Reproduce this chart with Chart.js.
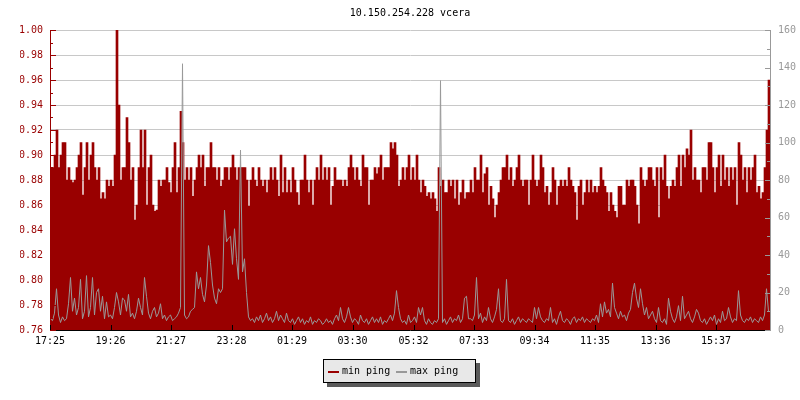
<!DOCTYPE html>
<html>
<head>
<meta charset="utf-8">
<title>10.150.254.228 vcera</title>
<script src="https://cdn.jsdelivr.net/npm/chart.js@4.4.0/dist/chart.umd.min.js"></script>
<style>
  html, body { margin: 0; padding: 0; background: #fff; }
  #pingChart { display: block; }
</style>
</head>
<body>
<canvas id="pingChart" width="800" height="400"></canvas>
<script>
const chartTitle = '10.150.254.228 vcera';
const seriesNames = ['min ping', 'max ping'];
const startTime = '17:25';
const stepMinutes = 4;
const tickLabels = ['17:25', '19:26', '21:27', '23:28', '01:29', '03:30',
                    '05:32', '07:33', '09:34', '11:35', '13:36', '15:37'];

// min ping (ms), one value every 4 minutes
const minPing = [
  0.89,0.89,0.90,0.92,0.89,0.90,0.91,0.91,0.88,0.89,0.88,0.878,0.88,0.89,0.90,0.91,0.868,0.89,0.91,0.88,0.90,0.91,0.89,0.88,0.89,0.865,0.87,0.865,0.88,0.875,
  0.88,0.875,0.90,1.00,0.94,0.88,0.89,0.89,0.93,0.91,0.88,0.89,0.848,0.86,0.89,0.92,0.89,0.92,0.86,0.89,0.90,0.86,0.855,0.856,0.88,0.875,0.88,0.88,0.89,0.878,
  0.87,0.89,0.91,0.87,0.89,0.935,0.91,0.88,0.89,0.88,0.89,0.867,0.88,0.89,0.90,0.89,0.90,0.875,0.89,0.89,0.91,0.89,0.89,0.88,0.89,0.875,0.88,0.89,0.89,0.88,
  0.89,0.90,0.89,0.88,0.89,0.89,0.89,0.89,0.88,0.859,0.88,0.89,0.88,0.875,0.89,0.88,0.875,0.88,0.87,0.88,0.89,0.88,0.89,0.88,0.867,0.90,0.87,0.89,0.87,0.88,
  0.87,0.89,0.88,0.87,0.86,0.88,0.88,0.90,0.88,0.87,0.88,0.86,0.88,0.89,0.88,0.90,0.88,0.89,0.88,0.89,0.86,0.875,0.89,0.88,0.88,0.88,0.875,0.88,0.875,0.89,
  0.90,0.89,0.88,0.89,0.88,0.875,0.90,0.89,0.89,0.86,0.88,0.88,0.89,0.885,0.89,0.90,0.88,0.89,0.89,0.89,0.91,0.905,0.91,0.90,0.875,0.88,0.89,0.88,0.89,0.90,
  0.88,0.89,0.88,0.90,0.88,0.87,0.88,0.875,0.867,0.87,0.865,0.87,0.865,0.855,0.89,0.875,0.88,0.87,0.87,0.88,0.875,0.88,0.865,0.88,0.86,0.87,0.88,0.865,0.87,0.87,
  0.88,0.87,0.89,0.88,0.88,0.90,0.87,0.885,0.89,0.86,0.875,0.865,0.85,0.86,0.87,0.88,0.89,0.89,0.90,0.88,0.89,0.875,0.88,0.89,0.90,0.88,0.875,0.88,0.88,0.86,
  0.88,0.90,0.88,0.875,0.88,0.90,0.89,0.87,0.875,0.86,0.87,0.89,0.88,0.86,0.875,0.88,0.875,0.88,0.875,0.89,0.88,0.875,0.87,0.848,0.875,0.88,0.86,0.87,0.88,0.87,
  0.88,0.87,0.875,0.87,0.875,0.89,0.88,0.875,0.87,0.855,0.87,0.86,0.855,0.85,0.875,0.875,0.86,0.86,0.88,0.875,0.88,0.88,0.875,0.86,0.845,0.89,0.88,0.875,0.88,0.89,
  0.89,0.88,0.875,0.89,0.85,0.89,0.88,0.90,0.875,0.865,0.875,0.88,0.875,0.89,0.90,0.875,0.90,0.89,0.905,0.90,0.92,0.88,0.89,0.88,0.88,0.87,0.89,0.89,0.88,0.91,
  0.91,0.89,0.87,0.89,0.90,0.875,0.90,0.88,0.89,0.875,0.89,0.88,0.89,0.86,0.91,0.90,0.88,0.89,0.87,0.89,0.88,0.89,0.90,0.87,0.875,0.865,0.87,0.89,0.92,0.96
];

// max ping (ms), same timestamps
const maxPing = [
  6,5,9,22,8,4,7,5,6,14,28,10,17,8,12,27,6,10,29,7,12,28,8,20,22,10,18,6,15,7,
  8,6,12,20,15,8,17,16,10,19,7,9,6,10,17,12,8,28,18,9,6,10,12,7,9,14,6,8,5,7,
  8,5,6,7,9,12,142,8,6,7,10,11,12,31,22,28,19,15,24,45,36,24,17,14,22,20,22,64,47,49,
  50,35,54,38,27,96,31,38,20,7,5,6,4,7,5,8,4,6,9,5,7,4,6,10,5,8,6,4,9,5,
  4,6,3,5,7,4,6,3,5,4,7,3,5,4,6,5,3,4,6,4,5,3,6,8,5,12,6,4,7,12,
  7,4,6,5,3,8,5,4,6,3,5,7,4,6,4,7,3,5,4,6,8,5,9,21,12,6,4,5,3,8,
  4,5,7,4,12,8,12,5,3,6,4,3,5,4,6,133,4,6,3,5,7,4,6,5,8,4,6,17,18,6,
  6,5,8,28,6,9,4,7,5,12,6,4,7,11,22,5,4,6,27,5,4,6,3,5,7,4,6,5,4,6,
  5,4,12,6,12,7,5,4,6,5,12,4,6,3,7,10,5,4,6,5,3,6,7,4,6,5,7,4,6,5,
  4,6,5,8,4,14,7,15,9,11,7,25,12,9,6,10,7,8,5,9,11,20,25,17,12,22,14,8,12,6,
  8,10,6,4,12,5,4,6,3,17,10,6,4,7,13,5,18,6,8,10,6,4,7,11,9,5,4,6,3,5,
  7,5,8,3,6,4,10,5,6,12,7,4,6,5,21,8,5,4,6,5,7,4,6,5,4,7,5,8,22,10
];

const minColor = '#990000';
const maxColor = '#999999';
const FONT = 'DejaVu Sans Mono';

function toMinutes(label) {
  const [h, m] = label.split(':').map(Number);
  const [h0, m0] = startTime.split(':').map(Number);
  return ((h * 60 + m) - (h0 * 60 + m0) + 1440) % 1440;
}
const tickMinutes = tickLabels.map(toMinutes);
const spanMinutes = minPing.length * stepMinutes;

// bars centred in their interval; line points sit on a pixel centre so spikes stay sharp
const barPoints = arr => arr.map((v, i) => ({ x: i * stepMinutes + stepMinutes / 2, y: v }));
const linePoints = arr => arr.map((v, i) => ({ x: i * stepMinutes + stepMinutes / 4, y: v }));

// small tick marks drawn inward, like the original graph
const inwardTicks = {
  id: 'inwardTicks',
  afterDatasetsDraw(chart) {
    const { ctx, chartArea: a, scales } = chart;
    ctx.save();
    ctx.lineWidth = 1;
    // left axis
    ctx.strokeStyle = minColor;
    const y = scales.y;
    for (let k = 0; k <= Math.round((y.max - y.min) / 0.01); k++) {
      const py = Math.round(y.getPixelForValue(y.min + k * 0.01)) + 0.5;
      const len = k % 2 ? 3 : 6;
      ctx.beginPath(); ctx.moveTo(a.left, py); ctx.lineTo(a.left + len, py); ctx.stroke();
    }
    // right axis
    ctx.strokeStyle = maxColor;
    const y1 = scales.y1;
    for (let v = y1.min; v <= y1.max; v += 10) {
      const py = Math.round(y1.getPixelForValue(v)) + 0.5;
      const len = v % 20 ? 3 : 5;
      ctx.beginPath(); ctx.moveTo(a.right, py); ctx.lineTo(a.right - len, py); ctx.stroke();
    }
    // time axis
    ctx.strokeStyle = '#000';
    tickMinutes.forEach(m => {
      const px = Math.round(scales.x.getPixelForValue(m)) + 0.5;
      ctx.beginPath(); ctx.moveTo(px, a.bottom); ctx.lineTo(px, a.bottom - 5); ctx.stroke();
    });
    ctx.restore();
  }
};

// boxed legend with drop shadow
const boxLegend = {
  id: 'boxLegend',
  afterDraw(chart) {
    const { ctx, chartArea: a } = chart;
    const boxW = 153, boxH = 24;
    const x0 = Math.round((chart.width - boxW) / 2) - 1;
    const y0 = a.bottom + 29;
    ctx.save();
    ctx.fillStyle = '#5a5a5a';
    ctx.fillRect(x0 + 4, y0 + 4, boxW, boxH);
    ctx.fillStyle = '#e8e8e8';
    ctx.fillRect(x0, y0, boxW, boxH);
    ctx.strokeStyle = '#000';
    ctx.lineWidth = 1;
    ctx.strokeRect(x0 + 0.5, y0 + 0.5, boxW - 1, boxH - 1);
    ctx.font = '10px "' + FONT + '"';
    ctx.textBaseline = 'middle';
    ctx.textAlign = 'left';
    const items = [
      { text: seriesNames[0], color: minColor },
      { text: seriesNames[1], color: maxColor }
    ];
    items.forEach((it, i) => {
      const x = x0 + 5 + i * 68;
      ctx.fillStyle = it.color;
      ctx.fillRect(x, y0 + 12, 11, 2);
      ctx.fillStyle = '#000';
      ctx.fillText(it.text, x + 14, y0 + 12);
    });
    ctx.restore();
  }
};

Chart.defaults.font.family = FONT;
Chart.defaults.font.size = 10;

const ctx = document.getElementById('pingChart').getContext('2d');
const pingChart = new Chart(ctx, {
  type: 'bar',
  data: {
    datasets: [
      {
        type: 'line',
        label: seriesNames[1],
        data: linePoints(maxPing),
        yAxisID: 'y1',
        borderColor: maxColor,
        borderWidth: 1,
        pointRadius: 0,
        tension: 0,
        fill: false,
        order: 0
      },
      {
        type: 'bar',
        label: seriesNames[0],
        data: barPoints(minPing),
        yAxisID: 'y',
        backgroundColor: minColor,
        borderWidth: 0,
        barPercentage: 1,
        categoryPercentage: 1,
        order: 1
      }
    ]
  },
  options: {
    responsive: false,
    animation: false,
    layout: { padding: { left: 20 } },
    plugins: {
      legend: { display: false },
      tooltip: { enabled: false },
      title: {
        display: true,
        text: chartTitle,
        color: '#000',
        font: { family: FONT, size: 10, weight: 'normal' },
        padding: { top: 7, bottom: 11 }
      }
    },
    scales: {
      x: {
        type: 'linear',
        offset: false,
        min: 0,
        max: spanMinutes,
        grid: { display: false, drawTicks: false },
        border: { display: true, color: '#000' },
        afterBuildTicks: scale => { scale.ticks = tickMinutes.map(v => ({ value: v })); },
        afterFit: scale => { scale.height = 70; },
        ticks: {
          color: '#000',
          autoSkip: false,
          maxRotation: 0,
          padding: 5,
          callback: (value, index) => tickLabels[index]
        }
      },
      y: {
        position: 'left',
        min: 0.76,
        max: 1.00,
        beginAtZero: false,
        afterFit: scale => { scale.width = 30; },
        grid: { color: '#c8c8c8', drawTicks: false },
        border: { color: minColor },
        ticks: {
          stepSize: 0.02,
          color: minColor,
          padding: 7,
          callback: value => value.toFixed(2)
        }
      },
      y1: {
        position: 'right',
        min: 0,
        max: 160,
        afterFit: scale => { scale.width = 30; },
        grid: { drawOnChartArea: false, drawTicks: false },
        border: { color: maxColor },
        ticks: { stepSize: 20, color: maxColor, padding: 8 }
      }
    }
  },
  plugins: [inwardTicks, boxLegend]
});
</script>
</body>
</html>
